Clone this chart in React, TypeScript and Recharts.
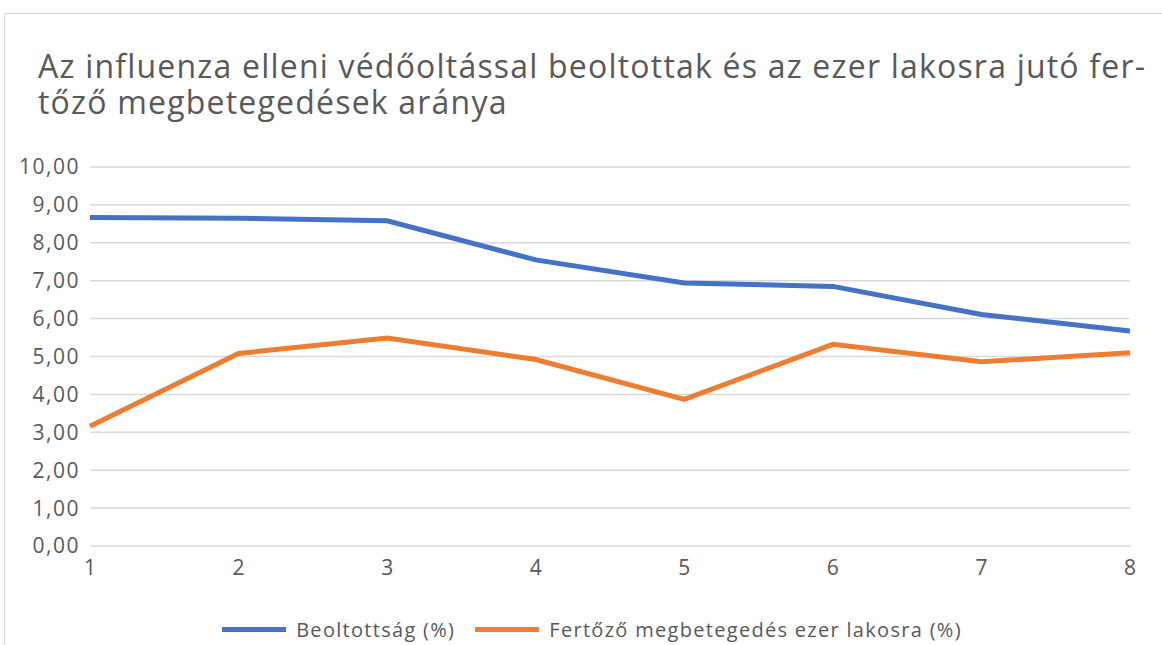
import React from "react";
import { LineChart, Line, XAxis, YAxis, CartesianGrid, Legend } from "recharts";

const categories = [1, 2, 3, 4, 5, 6, 7, 8];
const beoltottsag = [8.67, 8.65, 8.58, 7.55, 6.94, 6.85, 6.11, 5.67];
const fertozo = [3.16, 5.08, 5.49, 4.92, 3.87, 5.32, 4.86, 5.1];
const yTicks = [0, 1, 2, 3, 4, 5, 6, 7, 8, 9, 10];

const seriesNames = ["Beoltottság (%)", "Fertőző megbetegedés ezer lakosra (%)"];
const colors = ["#4472C4", "#ED7D31"];

const data = categories.map((c, i) => ({ x: c, a: beoltottsag[i], b: fertozo[i] }));

const FONT = "'Open Sans', Lato, sans-serif";
const TEXT = "#595959";

const fmt = (v: number) => v.toFixed(2).replace(".", ",");

const LegendContent = (props: any) => {
  const payload = props.payload || [];
  return (
    <div style={{ display: "flex", justifyContent: "center", alignItems: "center", fontFamily: FONT, fontSize: 20, letterSpacing: 1.3, color: TEXT, paddingLeft: 44 }}>
      {payload.map((p: any, i: number) => (
        <div key={i} style={{ display: "flex", alignItems: "center", marginLeft: i === 0 ? 0 : 20 }}>
          <div style={{ width: 64, height: 5, background: p.color, marginRight: 10 }} />
          <span>{p.value}</span>
        </div>
      ))}
    </div>
  );
};

export default function App() {
  return (
    <div style={{ position: "fixed", left: 0, top: 0, width: 1162, height: 645, background: "#fff", overflow: "hidden" }}>
      <div
        style={{
          position: "absolute",
          left: 4,
          top: 13,
          width: 1200,
          height: 700,
          border: "1.5px solid #d9d9d9",
          boxSizing: "border-box",
        }}
      />
      <div
        style={{
          position: "absolute",
          left: 38,
          top: 48,
          fontFamily: FONT,
          fontSize: 32,
          letterSpacing: 1.2,
          lineHeight: "36px",
          color: TEXT,
          whiteSpace: "pre",
        }}
      >
        {"Az influenza elleni védőoltással beoltottak és az ezer lakosra jutó fer-\ntőző megbetegedések aránya"}
      </div>
      <div style={{ position: "absolute", left: 0, top: 0 }}>
        <LineChart width={1162} height={645} data={data} margin={{ top: 167, right: 32, bottom: 42, left: 10 }}>
          <CartesianGrid horizontal vertical={false} stroke="#d9d9d9" strokeWidth={1.5} />
          <XAxis
            dataKey="x"
            type="number"
            domain={[1, 8]}
            ticks={categories}
            axisLine={false}
            tickLine={false}
            height={30}
            tick={{ fill: TEXT, fontSize: 21, fontFamily: FONT }}
            tickMargin={8}
          />
          <YAxis
            domain={[0, 10]}
            ticks={yTicks}
            tickFormatter={fmt}
            axisLine={false}
            tickLine={false}
            width={80}
            tick={{ fill: TEXT, fontSize: 21, fontFamily: FONT, letterSpacing: 1.5 }}
            tickMargin={4}
          />
          <Line dataKey="a" name={seriesNames[0]} stroke={colors[0]} strokeWidth={5} dot={false} isAnimationActive={false} />
          <Line dataKey="b" name={seriesNames[1]} stroke={colors[1]} strokeWidth={5} dot={false} isAnimationActive={false} />
          <Legend verticalAlign="bottom" content={<LegendContent />} wrapperStyle={{ bottom: 2 }} />
        </LineChart>
      </div>
    </div>
  );
}
